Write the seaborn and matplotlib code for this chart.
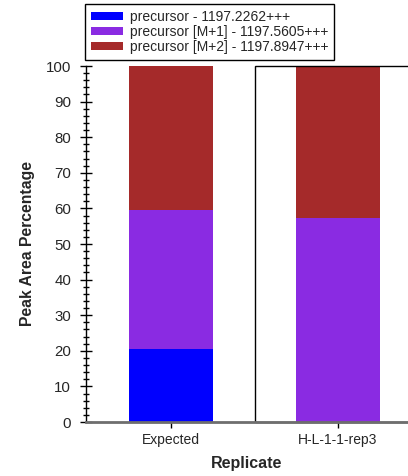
import pandas as pd
import seaborn as sns
import matplotlib.pyplot as plt
from matplotlib.patches import Patch, Rectangle
from matplotlib.ticker import MultipleLocator

replicates = ["Expected", "H-L-1-1-rep3"]
series = ["precursor - 1197.2262+++",
          "precursor [M+1] - 1197.5605+++",
          "precursor [M+2] - 1197.8947+++"]
precursor = [20.5, 0.0]
precursor_m1 = [39.0, 57.3]
precursor_m2 = [40.5, 42.7]
colors = ["#0000FF", "#8A2BE2", "#A52A2A"]

sns.set_style("white")
plt.rcParams['font.family'] = ['Liberation Sans', 'DejaVu Sans']

# cumulative tops for stacking
layers = [precursor, precursor_m1, precursor_m2]
cum = []
run = [0.0] * len(replicates)
for vals in layers:
    run = [a + b for a, b in zip(run, vals)]
    cum.append(run)

fig = plt.figure(figsize=(4.08, 4.76), dpi=100)
ax = fig.add_axes([86 / 408, 54 / 476, 322 / 408, 356 / 476])

for i in reversed(range(len(layers))):
    df = pd.DataFrame({"Replicate": replicates, "value": cum[i]})
    sns.barplot(data=df, x="Replicate", y="value", color=colors[i],
                saturation=1, width=0.5, ax=ax, linewidth=0)

# selected replicate box
ax.add_patch(Rectangle((0.5, 0), 1.5, 100, fill=False, edgecolor="black",
                       linewidth=1, clip_on=False, zorder=5))

ax.set_xlim(-0.51, 1.42)
ax.set_ylim(0, 100)
ax.yaxis.set_major_locator(MultipleLocator(10))
ax.yaxis.set_minor_locator(MultipleLocator(2))
ax.tick_params(axis="y", which="major", direction="inout", length=8.5,
               width=1, color="black", labelsize=10.8, left=True, pad=6.5)
ax.tick_params(axis="y", which="minor", direction="inout", length=5,
               width=1, color="black", left=True)
ax.tick_params(axis="x", direction="inout", length=8.5, width=1,
               color="black", labelsize=10, bottom=True, pad=4)
for s in ["top", "right"]:
    ax.spines[s].set_visible(False)
ax.spines["left"].set_color("black")
ax.spines["left"].set_linewidth(1)
ax.spines["bottom"].set_color("#6e6e6e")
ax.spines["bottom"].set_linewidth(2)
ax.spines["bottom"].set_zorder(6)

ax.set_xlabel("Replicate", fontsize=11.5, fontweight="bold", labelpad=6)
ax.set_ylabel("Peak Area Percentage", fontsize=11.3, fontweight="bold", labelpad=8)

handles = [Patch(facecolor=c, edgecolor="none") for c in colors]
fig.legend(handles, series, loc="upper left", bbox_to_anchor=(85 / 408, 1 - 4 / 476),
           borderaxespad=0, frameon=True, fancybox=False, edgecolor="black",
           framealpha=1, fontsize=10, handlelength=2.3, handleheight=0.5,
           labelspacing=0.1, borderpad=0.4, handletextpad=0.55)

fig.savefig("out.png", dpi=100)
